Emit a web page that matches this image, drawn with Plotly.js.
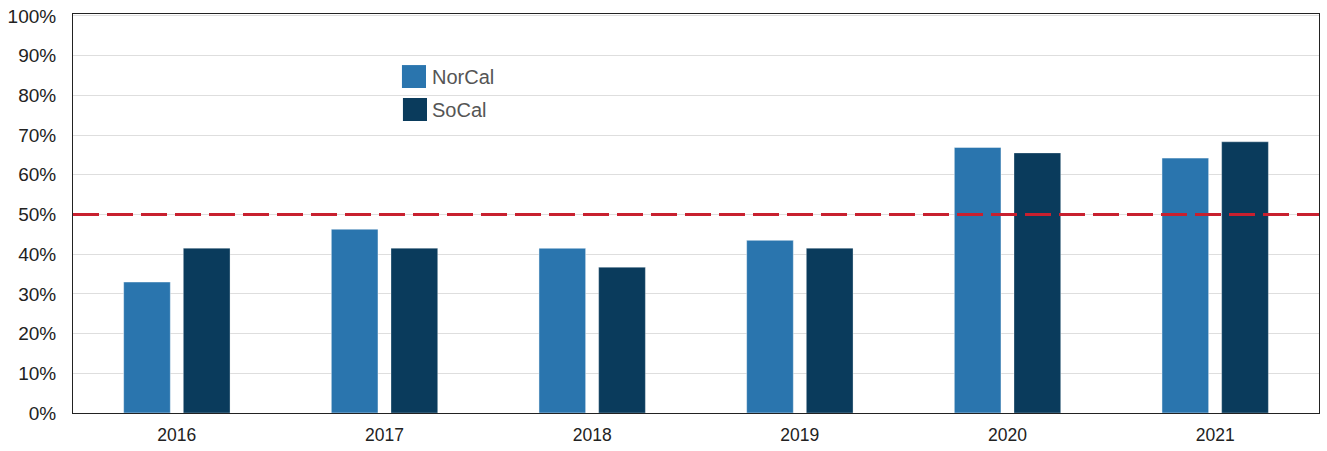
<!DOCTYPE html>
<html>
<head>
<meta charset="utf-8">
<script src="https://cdn.plot.ly/plotly-3.0.1.min.js"></script>
<style>html,body{margin:0;padding:0;background:#fff;}#chart{width:1327px;height:451px;}</style>
</head>
<body>
<div id="chart"></div>
<script>
const years = ["2016", "2017", "2018", "2019", "2020", "2021"];
const norcal = [33, 46.3, 41.5, 43.5, 66.9, 64.2];
const socal = [41.5, 41.5, 36.7, 41.5, 65.5, 68.3];
const seriesNames = ["NorCal", "SoCal"];
const threshold = 50;
const yTickVals = [0, 10, 20, 30, 40, 50, 60, 70, 80, 90, 100];
const yTickText = yTickVals.map(v => v + "%");

const colNor = "#2a75ae";
const colSo = "#0a3b5c";

const traces = [
  {type: "bar", name: seriesNames[0], x: years, y: norcal, marker: {color: colNor, line: {color: "rgba(255,255,255,0.45)", width: 1}}, showlegend: false, hovertemplate: "%{x}: %{y:.1f}%<extra>NorCal</extra>"},
  {type: "bar", name: seriesNames[1], x: years, y: socal, marker: {color: colSo, line: {color: "rgba(255,255,255,0.3)", width: 1}}, showlegend: false, hovertemplate: "%{x}: %{y:.1f}%<extra>SoCal</extra>"}
];

const font = "'Liberation Sans', Arial, Helvetica, sans-serif";

const layout = {
  width: 1327, height: 451,
  margin: {l: 73, r: 8, t: 14, b: 38},
  paper_bgcolor: "#fff", plot_bgcolor: "#fff",
  barmode: "group", bargap: 0.425, bargroupgap: 0.218,
  font: {family: font, color: "#222"},
  xaxis: {
    type: "category", showgrid: false, showline: true, mirror: true, linecolor: "#222", linewidth: 1,
    ticks: "", tickfont: {size: 17.5, color: "#222"}, ticklabelstandoff: 6
  },
  yaxis: {
    range: [0, 100.5], tickvals: yTickVals, ticktext: yTickText,
    showgrid: true, gridcolor: "#dedede", gridwidth: 1,
    showline: true, mirror: true, linecolor: "#222", linewidth: 1,
    zeroline: false, ticks: "", tickfont: {size: 19, color: "#222"}, ticklabelstandoff: 12
  },
  shapes: [
    {type: "line", xref: "paper", yref: "y", x0: 0, x1: 1, y0: threshold, y1: threshold,
     line: {color: "#c8202f", width: 3, dash: "26px,8px"}, layer: "above"},
    {type: "rect", xref: "paper", yref: "paper", x0: 0.264, x1: 0.2833, y0: 0.8145, y1: 0.872,
     fillcolor: colNor, line: {width: 0}},
    {type: "rect", xref: "paper", yref: "paper", x0: 0.2648, x1: 0.2841, y0: 0.7318, y1: 0.7895,
     fillcolor: colSo, line: {width: 0}}
  ],
  annotations: [
    {xref: "paper", yref: "paper", x: 0.2865, y: 0.843, xanchor: "left", yanchor: "middle", showarrow: false,
     text: seriesNames[0], font: {size: 20, color: "#555"}},
    {xref: "paper", yref: "paper", x: 0.2865, y: 0.760, xanchor: "left", yanchor: "middle", showarrow: false,
     text: seriesNames[1], font: {size: 20, color: "#555"}}
  ]
};

Plotly.newPlot("chart", traces, layout, {displayModeBar: false, staticPlot: true});
</script>
</body>
</html>
